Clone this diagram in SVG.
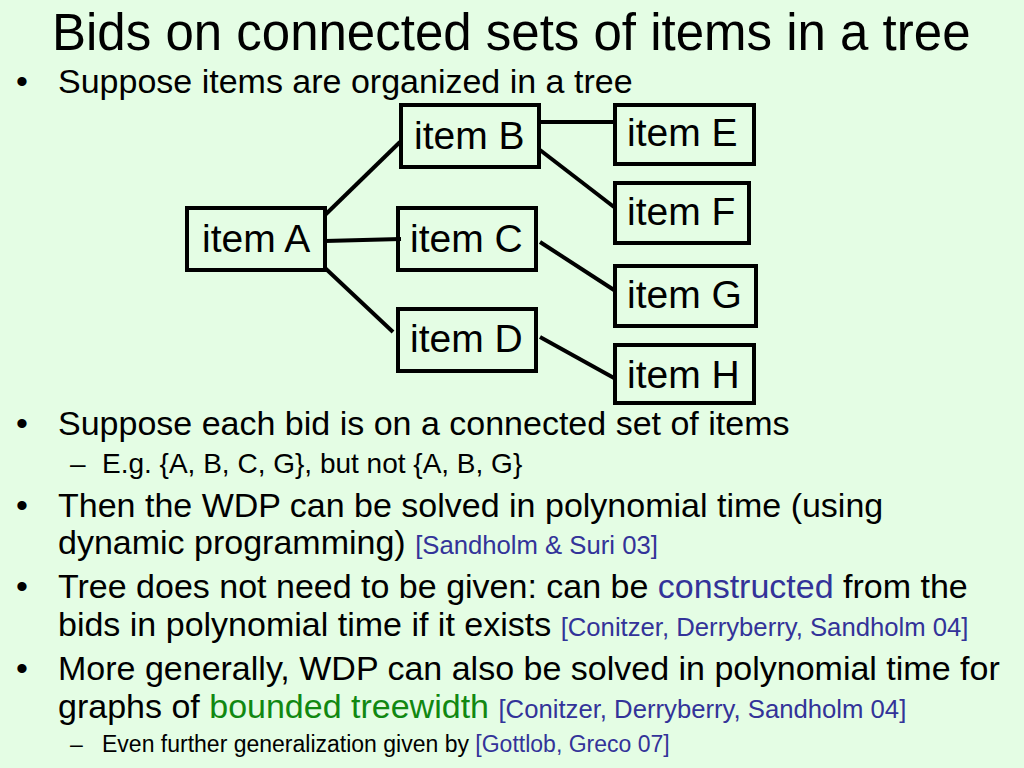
<svg xmlns="http://www.w3.org/2000/svg" width="1024" height="768" viewBox="0 0 1024 768">
<style>
text{font-family:"Liberation Sans",Arial,sans-serif;fill:#000}
.title{font-size:51px}
.b{font-size:34px}
.s{font-size:28px}
.s2{font-size:23px}
.cite{fill:#333399;font-size:25.7px}
.blue{fill:#333399}
.green{fill:#118811}
.node rect{fill:none;stroke:#000;stroke-width:4}
.node text{font-size:39px}
.edges line{stroke:#000;stroke-width:4}
</style>
<rect x="0" y="0" width="1024" height="768" fill="#e4fde4"/>
<text class="title" x="52" y="50">Bids on connected sets of items in a tree</text>
<text class="b" x="16" y="93">•</text>
<text class="b" x="58" y="93">Suppose items are organized in a tree</text>

<g class="edges" id="connectors">
<line x1="325" y1="215" x2="400" y2="142"/>
<line x1="325" y1="241" x2="401" y2="239"/>
<line x1="325" y1="268" x2="393" y2="332"/>
<line x1="540" y1="122" x2="614" y2="122"/>
<line x1="540" y1="150" x2="614" y2="207"/>
<line x1="540" y1="242" x2="614" y2="290"/>
<line x1="540" y1="337" x2="614" y2="378"/>
</g>

<g class="node" id="itemA"><rect x="187" y="208" width="138" height="62"/><text x="202" y="252">item A</text></g>
<g class="node" id="itemB"><rect x="401" y="105" width="138" height="62"/><text x="414" y="149">item B</text></g>
<g class="node" id="itemC"><rect x="398" y="208" width="138" height="62"/><text x="410" y="252">item C</text></g>
<g class="node" id="itemD"><rect x="398" y="309" width="138" height="62"/><text x="410" y="352">item D</text></g>
<g class="node" id="itemE"><rect x="615" y="105" width="139" height="59"/><text x="627" y="146">item E</text></g>
<g class="node" id="itemF"><rect x="615" y="183" width="134" height="60"/><text x="627" y="225">item F</text></g>
<g class="node" id="itemG"><rect x="615" y="266" width="141" height="60"/><text x="627" y="308">item G</text></g>
<g class="node" id="itemH"><rect x="615" y="345" width="139" height="58"/><text x="627" y="388">item H</text></g>

<text class="b" x="16" y="435">•</text>
<text class="b" x="58" y="435">Suppose each bid is on a connected set of items</text>
<text class="s" x="70" y="473">–</text>
<text class="s" x="102" y="473">E.g. {A, B, C, G}, but not {A, B, G}</text>

<text class="b" x="16" y="517">•</text>
<text class="b" x="58" y="517">Then the WDP can be solved in polynomial time (using</text>
<text class="b" x="58" y="554">dynamic programming) <tspan class="cite">[Sandholm &amp; Suri 03]</tspan></text>

<text class="b" x="16" y="598">•</text>
<text class="b" x="58" y="598">Tree does not need to be given: can be <tspan class="blue">constructed</tspan> from the</text>
<text class="b" x="58" y="636">bids in polynomial time if it exists <tspan class="cite">[Conitzer, Derryberry, Sandholm 04]</tspan></text>

<text class="b" x="16" y="680">•</text>
<text class="b" x="58" y="680">More generally, WDP can also be solved in polynomial time for</text>
<text class="b" x="58" y="718">graphs of <tspan class="green">bounded treewidth</tspan> <tspan class="cite">[Conitzer, Derryberry, Sandholm 04]</tspan></text>
<text class="s2" x="70" y="752">–</text>
<text class="s2" x="102" y="752">Even further generalization given by <tspan class="blue">[Gottlob, Greco 07]</tspan></text>
</svg>
